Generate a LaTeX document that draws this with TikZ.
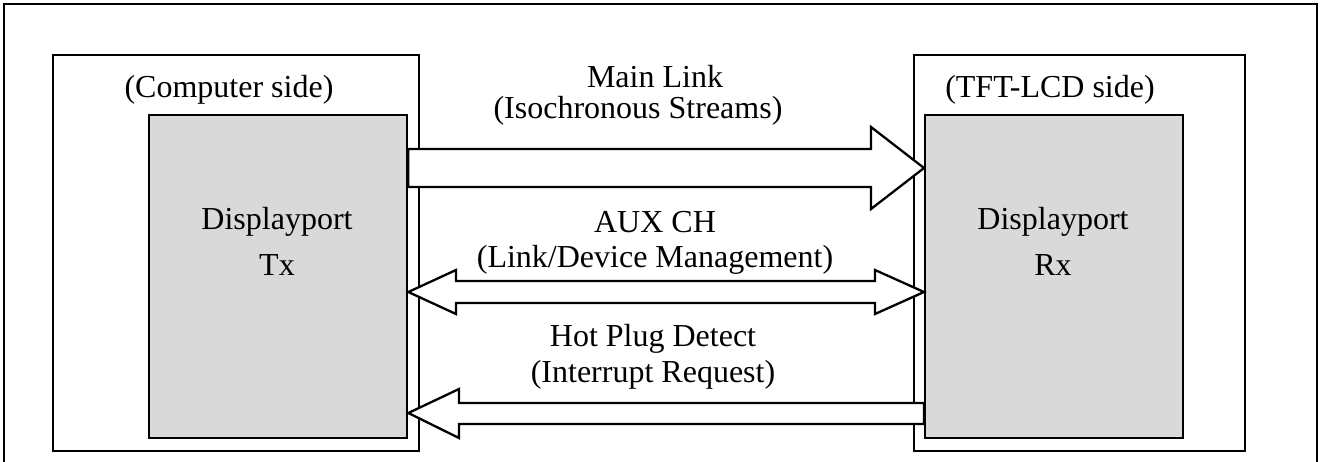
\documentclass[tikz,border=0pt]{standalone}
\usepackage{fontspec}
\setmainfont{Liberation Serif}
\begin{document}
\begin{tikzpicture}[x=1pt,y=-1pt,
  line/.style={draw=black,line width=2.3pt},
  sidebox/.style={line,fill=white,anchor=north west,inner sep=0pt,minimum height=396pt},
  chip/.style={line,fill=black!15,anchor=north west,inner sep=0pt,minimum width=258pt,minimum height=323pt},
  barrow/.style={line,fill=white,line join=miter},
  lbl/.style={anchor=base,inner sep=0pt,font=\fontsize{32}{38}\selectfont}
]
\useasboundingbox (0,0) rectangle (1325,461);
\clip (0,0) rectangle (1325,461);
% outer frame (bottom edge lies below the picture)
\draw[line] (4,480) -- (4,4) -- (1317,4) -- (1317,480);
% side boxes
\node[sidebox,minimum width=366pt] (comp) at (52,54) {};
\node[sidebox,minimum width=331pt] (tft) at (913,54) {};
\node[chip] (tx) at (148,114) {};
\node[chip] (rx) at (924,114) {};
% side labels
\node[lbl] (compl) at (229,97) {(Computer side)};
\node[lbl] (tftl) at (1050,97) {(TFT-LCD side)};
\node[lbl] (tx1) at (277,229) {Displayport};
\node[lbl] (tx2) at (277,275) {Tx};
\node[lbl] (rx1) at (1053,229) {Displayport};
\node[lbl] (rx2) at (1053,275) {Rx};
% main link arrow
\draw[barrow] (tx.east |- 0,149) -- (871,149) -- (871,127) -- (rx.west |- 0,168)
  -- (871,209) -- (871,187) -- (tx.east |- 0,187) -- cycle;
% AUX CH double arrow
\draw[barrow] (tx.east |- 0,292) -- (456,270) -- (456,281) -- (875,281) -- (875,270)
  -- (rx.west |- 0,292) -- (875,314) -- (875,303) -- (456,303) -- (456,314) -- cycle;
% hot plug detect arrow
\draw[barrow] (tx.east |- 0,413) -- (459,389) -- (459,403) -- (rx.west |- 0,403)
  -- (rx.west |- 0,424) -- (459,424) -- (459,438) -- cycle;
% arrow labels
\node[lbl] (ml1) at (655,87) {Main Link};
\node[lbl] (ml2) at (638,118) {(Isochronous Streams)};
\node[lbl] (aux1) at (655,232) {AUX CH};
\node[lbl] (aux2) at (655,267) {(Link/Device Management)};
\node[lbl] (hp1) at (653,346) {Hot Plug Detect};
\node[lbl] (hp2) at (653,382) {(Interrupt Request)};
\end{tikzpicture}
\end{document}
